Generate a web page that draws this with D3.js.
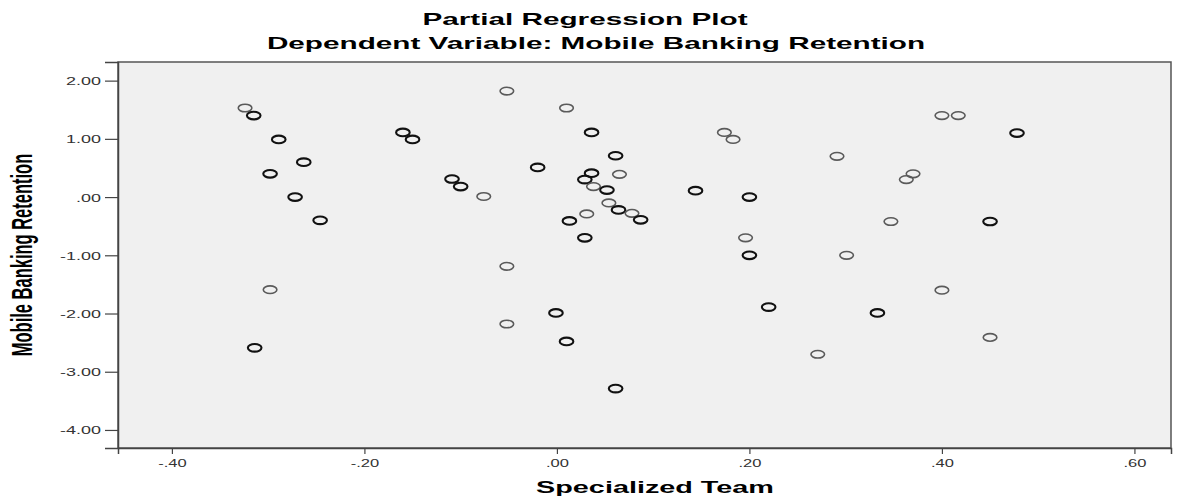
<!DOCTYPE html>
<html>
<head>
<meta charset="utf-8">
<script src="https://cdn.jsdelivr.net/npm/d3@7/dist/d3.min.js"></script>
<style>
  html, body { margin: 0; padding: 0; background: #ffffff; }
  svg { display: block; font-family: "Liberation Sans", Arial, sans-serif; }
</style>
</head>
<body>
<svg id="chart" width="1178" height="500"></svg>
<script>
// Partial regression residuals: Specialized Team (x) vs Mobile Banking Retention (y)
const teamResid = [
  -0.324, -0.315, -0.289, -0.263, -0.298, -0.272, -0.246, -0.160, -0.150, -0.109,
  -0.100, -0.076, -0.052,  0.010,  0.036,  0.061, -0.020,  0.036,  0.065,  0.029,
   0.038,  0.052,  0.144,  0.200,  0.054,  0.064,  0.078,  0.087,  0.031,  0.013,
   0.029,  0.196,  0.200,  0.301,  0.174,  0.183,  0.291,  0.400,  0.417,  0.478,
   0.370,  0.363,  0.347,  0.450, -0.298, -0.314, -0.052, -0.001, -0.052,  0.010,
   0.061,  0.220,  0.271,  0.400,  0.333,  0.450
];
const retentionResid = [
   1.53,  1.40,  0.99,  0.60,  0.40,  0.00, -0.40,  1.11,  0.99,  0.31,
   0.18,  0.01,  1.82,  1.53,  1.11,  0.71,  0.51,  0.41,  0.39,  0.30,
   0.18,  0.12,  0.11,  0.00, -0.10, -0.22, -0.28, -0.39, -0.29, -0.41,
  -0.70, -0.70, -1.00, -1.00,  1.11,  0.99,  0.70,  1.40,  1.40,  1.10,
   0.40,  0.30, -0.42, -0.42, -1.59, -2.59, -1.19, -1.99, -2.18, -2.48,
  -3.29, -1.89, -2.70, -1.60, -1.99, -2.41
];
// number of coinciding cases drawn at each position
const caseCount = [
  1, 2, 2, 2, 2, 2, 2, 2, 2, 2,
  2, 1, 1, 1, 2, 2, 2, 2, 1, 2,
  1, 2, 2, 2, 1, 2, 1, 2, 1, 2,
  2, 1, 2, 1, 1, 1, 1, 1, 1, 2,
  1, 1, 1, 2, 1, 2, 1, 2, 1, 2,
  2, 2, 1, 1, 2, 1
];
const xTicks = [-0.4, -0.2, 0, 0.2, 0.4, 0.6];
const yTicks = [2, 1, 0, -1, -2, -3, -4];

const titleLines = ["Partial Regression Plot", "Dependent Variable: Mobile Banking Retention"];
const xTitle = "Specialized Team";
const yTitle = "Mobile Banking Retention";

const svg = d3.select("#chart");
const plot = { left: 118, right: 1171, top: 62, bottom: 448 };
const stretch = 1.8; // wide text rendering

const x = d3.scaleLinear().domain([-0.456, 0.638]).range([plot.left, plot.right]);
const y = d3.scaleLinear().domain([-4.31, 2.32]).range([plot.bottom, plot.top]);

// SPSS-style number format: ".00", "-.40" (ASCII hyphen, no leading zero)
const locale = d3.formatLocale({ decimal: ".", thousands: ",", grouping: [3], currency: ["", ""], minus: "-" });
const fmt2 = locale.format(".2f");
const spssFmt = v => fmt2(v).replace(/^(-?)0\./, "$1.");

// plot area
svg.append("rect")
  .attr("x", plot.left).attr("y", plot.top)
  .attr("width", plot.right - plot.left).attr("height", plot.bottom - plot.top)
  .attr("fill", "#f0f0f0")
  .attr("stroke", "#555").attr("stroke-width", 1.5);

// y axis
const yAxis = svg.append("g")
  .attr("transform", `translate(${plot.left},0)`)
  .call(d3.axisLeft(y).tickValues(yTicks).tickFormat(spssFmt).tickSize(13).tickPadding(0));
yAxis.select(".domain").attr("stroke", "#444").attr("stroke-width", 1.5);
yAxis.selectAll(".tick line").attr("stroke", "#444").attr("stroke-width", 1.2);
yAxis.selectAll(".tick text")
  .attr("x", null).attr("dy", null)
  .attr("transform", `translate(-17,4) scale(${stretch},1)`)
  .attr("font-size", 10).attr("fill", "#333")
  .attr("font-family", "Liberation Sans, Arial, sans-serif");

// x axis
const xAxis = svg.append("g")
  .attr("transform", `translate(0,${plot.bottom})`)
  .call(d3.axisBottom(x).tickValues(xTicks).tickFormat(spssFmt).tickSize(6).tickPadding(0));
xAxis.select(".domain").attr("stroke", "#444").attr("stroke-width", 1.5);
xAxis.selectAll(".tick line").attr("stroke", "#444").attr("stroke-width", 1.2);
xAxis.selectAll(".tick text")
  .attr("y", null).attr("dy", null)
  .attr("transform", `translate(0,19) scale(${stretch * 0.92},1)`)
  .attr("font-size", 10).attr("fill", "#333")
  .attr("font-family", "Liberation Sans, Arial, sans-serif");

// points
const pts = teamResid.map((v, i) => ({ tx: v, ry: retentionResid[i], n: caseCount[i] }));
svg.append("g").selectAll("ellipse")
  .data(pts)
  .join("ellipse")
  .attr("cx", d => x(d.tx))
  .attr("cy", d => y(d.ry))
  .attr("rx", 6.8)
  .attr("ry", 3.8)
  .attr("fill", "none")
  .attr("stroke", d => d.n > 1 ? "#111" : "#5a5a5a")
  .attr("stroke-width", d => d.n > 1 ? 2.1 : 1.6);

// titles
const titleCenters = [585, 596];
titleLines.forEach((t, i) => {
  svg.append("text")
    .attr("transform", `translate(${titleCenters[i]},${25 + i * 24}) scale(${stretch},1)`)
    .attr("text-anchor", "middle")
    .attr("font-size", 16.5).attr("font-weight", "bold").attr("fill", "#000")
    .text(t);
});

svg.append("text")
  .attr("transform", `translate(655,493) scale(${stretch},1)`)
  .attr("text-anchor", "middle")
  .attr("font-size", 16).attr("font-weight", "bold").attr("fill", "#000")
  .text(xTitle);

svg.append("text")
  .attr("transform", `translate(32,255) scale(${stretch},1) rotate(-90)`)
  .attr("text-anchor", "middle")
  .attr("font-size", 16.5).attr("font-weight", "bold").attr("fill", "#000")
  .text(yTitle);
</script>
</body>
</html>
